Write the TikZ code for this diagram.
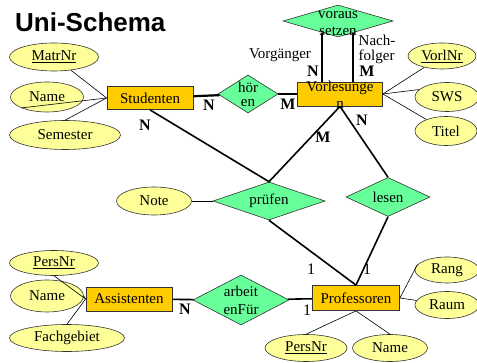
\documentclass[tikz,border=0pt]{standalone}
\usepackage{fontspec}
\setmainfont{Liberation Serif}
\newfontfamily\titlefont{Liberation Sans}
\usetikzlibrary{shapes.geometric,calc}

\definecolor{entityfill}{HTML}{FFCC00}
\definecolor{relfill}{HTML}{66FF99}
\definecolor{attrfill}{HTML}{FFFF99}

\begin{document}
\begin{tikzpicture}[x=1pt,y=-1pt,
    every node/.style={font=\fontsize{15}{18}\selectfont},
    entity/.style={rectangle,draw=black!80,fill=entityfill,line width=0.8pt,inner sep=0pt},
    attr/.style={ellipse,draw=black!80,fill=attrfill,line width=0.6pt,inner sep=0pt},
    rel/.style={diamond,draw=black!80,fill=relfill,line width=0.6pt,inner sep=0pt},
    card/.style={font=\fontsize{16}{16}\selectfont\bfseries,inner sep=0pt},
    one/.style={font=\fontsize{16}{16}\selectfont,inner sep=0pt},
    link/.style={line width=1.6pt},
    attrlink/.style={line width=0.6pt}]
    \useasboundingbox (0,0) rectangle (477,363);

    \node at (15,22) [anchor=west,inner sep=0pt,font=\titlefont\fontsize{26}{26}\selectfont\bfseries]
      (title) {Uni-Schema};

    % entities
    \node at (150,98) [entity,minimum width=86,minimum height=23] (stud) {Studenten};
    \node at (340,94) [entity,minimum width=85,minimum height=24,
      label={[font=\fontsize{15}{17}\selectfont,align=center,yshift=-1]center:{Vorlesunge\\n}}]
      (vorl) {};
    \node at (129,299) [entity,minimum width=86,minimum height=24] (assi) {Assistenten};
    \node at (356,298) [entity,minimum width=87,minimum height=25] (prof) {Professoren};

    % relationships
    \node at (248,94) [rel,minimum width=60,minimum height=38,
      label={[font=\fontsize{15}{14}\selectfont,align=center]center:{h\"or\\en}}] (hoeren) {};
    \node at (338,21) [rel,minimum width=110,minimum height=32,
      label={[font=\fontsize{15}{17}\selectfont,align=center,yshift=-2.5]center:{voraus\\setzen}}] (voraus) {};
    \node at (269,201) [rel,minimum width=112,minimum height=38,label=center:pr\"ufen] (pruef) {};
    \node at (388,197) [rel,minimum width=84,minimum height=39,label=center:lesen] (lesen) {};
    \node at (241,300) [rel,minimum width=96,minimum height=50,
      label={[font=\fontsize{15}{18}\selectfont,align=center]center:{arbeit\\enF\"ur}}] (arbeit) {};

    % attributes
    \node at (54,57) [attr,minimum width=89,minimum height=28] (matr) {\underline{MatrNr}};
    \node at (47,97) [attr,minimum width=73,minimum height=30] (sname) {Name};
    \node at (65,135) [attr,minimum width=111,minimum height=29] (sem) {Semester};
    \node at (442,56) [attr,minimum width=68,minimum height=26] (vorlnr) {\underline{VorlNr}};
    \node at (447,97) [attr,minimum width=64,minimum height=29] (sws) {SWS};
    \node at (446,131) [attr,minimum width=62,minimum height=29] (titel) {Titel};
    \node at (154,201) [attr,minimum width=75,minimum height=28] (note) {Note};
    \node at (54,263) [attr,minimum width=89,minimum height=25] (apers) {\underline{PersNr}};
    \node at (47,296) [attr,minimum width=73,minimum height=32] (aname) {Name};
    \node at (67,338) [attr,minimum width=115,minimum height=27] (fach) {Fachgebiet};
    \node at (447,270) [attr,minimum width=64,minimum height=26] (rang) {Rang};
    \node at (447,305) [attr,minimum width=64,minimum height=27] (raum) {Raum};
    \node at (306,348) [attr,minimum width=82,minimum height=27] (ppers) {\underline{PersNr}};
    \node at (390,348) [attr,minimum width=75,minimum height=27] (pname) {Name};

    % relationship lines
    \draw[link,line width=2.2pt] (stud) -- (hoeren);
    \draw[link] (hoeren) -- (vorl);
    \draw[link] (stud.south) -- (pruef.north);
    \draw[link] (vorl.south) -- (pruef.north);
    \draw[link] (vorl.south) -- (lesen.north);
    \draw[link] (pruef.south) -- (prof.north);
    \draw[link] (lesen.south) -- (prof.north);
    \draw[link] (assi) -- (arbeit);
    \draw[link] (arbeit) -- (prof);
    \coordinate (vorg) at ($(voraus.south)!0.29!(voraus.west)$);
    \coordinate (nachf) at ($(voraus.south)!0.27!(voraus.east)$);
    \draw[link] (vorg) -- (vorg |- vorl.north);
    \draw[link] (nachf) -- (nachf |- vorl.north);

    % attribute lines
    \draw[attrlink] (matr) -- (stud.west);
    \draw[attrlink] (stud.west) -- (sname.203);
    \draw[attrlink] (sem.north) -- (stud.west);
    \draw[attrlink] (vorl.east) -- (vorlnr);
    \draw[attrlink] (vorl.east) -- (sws.165);
    \draw[attrlink] (vorl.east) -- (titel);
    \draw[attrlink] (note) -- (pruef);
    \draw[attrlink] (apers.south) -- (assi.west);
    \draw[attrlink] (aname.east) -- (assi.west);
    \draw[attrlink] (fach.north) -- (assi.west);
    \draw[attrlink] (prof.east) -- (rang.170);
    \draw[attrlink] (prof.east) -- (raum);
    \draw[attrlink] (prof.south) -- (ppers.north);
    \draw[attrlink] (prof.south) -- (pname.north);

    % roles and cardinalities
    \node at (280,55) (vorgtxt) {Vorg\"anger};
    \node at (377,49) [font=\fontsize{15}{15}\selectfont,align=left,inner sep=0pt] (nachftxt) {Nach-\\folger};
    \node at (313,71) [card] (cvorg) {N};
    \node at (367,71) [card] (cnachf) {M};
    \node at (209,105) [card] (cstudh) {N};
    \node at (288,104) [card] (cvorlh) {M};
    \node at (145,125) [card] (cstudp) {N};
    \node at (323,137) [card] (cvorlp) {M};
    \node at (362,120) [card] (cvorll) {N};
    \node at (185,309) [card] (cassi) {N};
    \node at (311,269) [one] (cprofp) {1};
    \node at (367,269) [one] (cprofl) {1};
    \node at (307,310) [one] (cprofa) {1};
\end{tikzpicture}
\end{document}
